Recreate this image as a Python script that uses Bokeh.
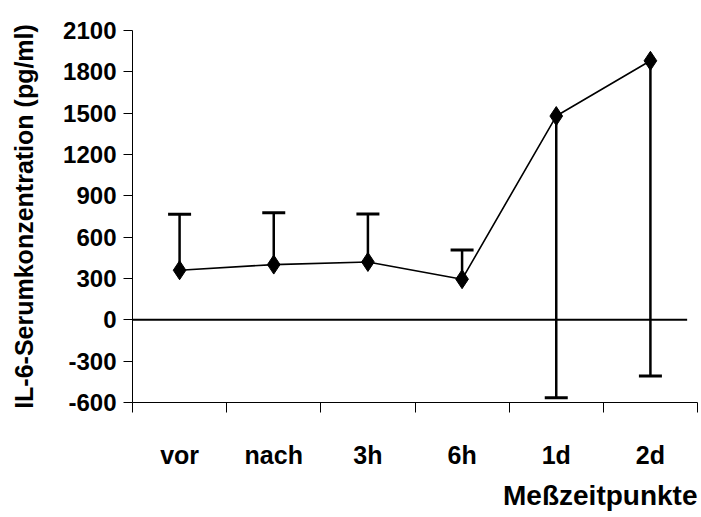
from bokeh.plotting import figure
from bokeh.models import (Range1d, FixedTicker, Whisker, TeeHead, Title,
                          ColumnDataSource)
from bokeh.embed import file_html
from bokeh.resources import INLINE

# IL-6 serum concentration at each measurement time (mean and SD, pg/ml)
categories = ["vor", "nach", "3h", "6h", "1d", "2d"]
means = [360, 401, 420, 295, 1479, 1880]
sds = [406, 377, 349, 211, 2044, 2287]
# which side of each mean the SD bar is drawn on
bar_side = ["up", "up", "up", "up", "down", "down"]
y_ticks = [-600, -300, 0, 300, 600, 900, 1200, 1500, 1800, 2100]

FONT = "Liberation Sans"

xs = [i + 1 for i in range(len(categories))]

p = figure(width=701, height=517, output_backend="svg", toolbar_location=None,
           x_range=Range1d(0.5, len(categories) + 0.5),
           y_range=Range1d(y_ticks[0], y_ticks[-1]),
           min_border_left=132, min_border_right=4,
           min_border_top=30, min_border_bottom=0)
p.outline_line_color = None
p.grid.visible = False
p.background_fill_color = "white"
p.border_fill_color = "white"

# zero reference line
p.segment(x0=[0.5], y0=[0], x1=[6.39], y1=[0], line_color="black", line_width=2)

# SD bars, one-sided
up = [i for i, s in enumerate(bar_side) if s == "up"]
dn = [i for i, s in enumerate(bar_side) if s == "down"]
src_up = ColumnDataSource(dict(x=[xs[i] for i in up],
                               lower=[means[i] for i in up],
                               upper=[means[i] + sds[i] for i in up]))
src_dn = ColumnDataSource(dict(x=[xs[i] for i in dn],
                               lower=[means[i] - sds[i] for i in dn],
                               upper=[means[i] for i in dn]))
p.add_layout(Whisker(source=src_up, base="x", lower="lower", upper="upper",
                     line_color="black", line_width=2.5, lower_head=None,
                     upper_head=TeeHead(size=23, line_color="black", line_width=3)))
p.add_layout(Whisker(source=src_dn, base="x", lower="lower", upper="upper",
                     line_color="black", line_width=2.5, upper_head=None,
                     lower_head=TeeHead(size=23, line_color="black", line_width=3)))

# mean line with diamond markers
p.line(xs, means, line_color="black", line_width=1.6)
p.scatter(xs, means, marker="diamond", size=19, fill_color="black",
          line_color="black")

# y axis
ya = p.yaxis[0]
ya.ticker = FixedTicker(ticks=y_ticks)
ya.major_label_overrides = {t: str(t) for t in y_ticks}
ya.axis_line_color = "black"
ya.major_tick_line_color = "black"
ya.major_tick_out = 9
ya.major_tick_in = 0
ya.minor_tick_line_color = None
ya.major_label_standoff = 7
ya.major_label_text_font = FONT
ya.major_label_text_font_style = "bold"
ya.major_label_text_font_size = "24px"
ya.major_label_text_color = "black"
ya.axis_label = "IL-6-Serumkonzentration (pg/ml)"
ya.axis_label_text_font = FONT
ya.axis_label_text_font_style = "bold"
ya.axis_label_text_font_size = "25px"
ya.axis_label_text_color = "black"
ya.axis_label_standoff = 22

# x axis: labels centred on categories, tick marks between them
xa = p.xaxis[0]
xa.ticker = FixedTicker(ticks=xs, minor_ticks=[x - 0.5 for x in xs] + [xs[-1] + 0.5])
xa.major_label_overrides = {x: c for x, c in zip(xs, categories)}
xa.axis_line_color = "black"
xa.major_tick_line_color = None
xa.major_tick_out = 0
xa.major_tick_in = 0
xa.minor_tick_line_color = "black"
xa.minor_tick_out = 10
xa.minor_tick_in = 0
xa.major_label_standoff = 28
xa.major_label_text_font = FONT
xa.major_label_text_font_style = "bold"
xa.major_label_text_font_size = "25px"
xa.major_label_text_color = "black"

p.add_layout(Title(text="Meßzeitpunkte", align="right", text_font=FONT,
                   text_font_style="bold", text_font_size="28px",
                   text_color="black", standoff=13), "below")

open("out.html", "w").write(file_html(p, INLINE))
